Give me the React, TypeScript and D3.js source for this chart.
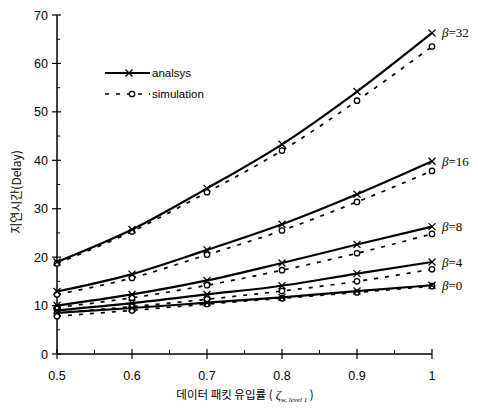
import React from "react";
import * as d3 from "d3";

const xValues = [0.5, 0.6, 0.7, 0.8, 0.9, 1.0];
const betaLabels = ["β=32", "β=16", "β=8", "β=4", "β=0"];
const analysis32 = [19.0, 25.7, 34.2, 43.3, 54.2, 66.3];
const simulation32 = [18.7, 25.3, 33.4, 42.0, 52.3, 63.5];
const analysis16 = [12.9, 16.5, 21.5, 26.8, 33.0, 39.8];
const simulation16 = [12.3, 15.7, 20.5, 25.5, 31.4, 37.8];
const analysis8 = [10.0, 12.3, 15.2, 18.8, 22.6, 26.3];
const simulation8 = [9.6, 11.6, 14.2, 17.3, 20.8, 24.8];
const analysis4 = [9.0, 10.5, 12.3, 14.1, 16.6, 19.0];
const simulation4 = [8.5, 9.8, 11.3, 13.0, 15.0, 17.5];
const analysis0 = [8.5, 9.5, 10.6, 11.7, 13.0, 14.2];
const simulation0 = [7.8, 9.0, 10.3, 11.5, 12.7, 14.0];
const xTicks = [0.5, 0.6, 0.7, 0.8, 0.9, 1];
const yTicks = [0, 10, 20, 30, 40, 50, 60, 70];

const analysisSeries = [analysis32, analysis16, analysis8, analysis4, analysis0];
const simulationSeries = [simulation32, simulation16, simulation8, simulation4, simulation0];

export default function App() {
  const W = 478, H = 409;
  const x = d3.scaleLinear().domain([0.5, 1]).range([57, 432]);
  const y = d3.scaleLinear().domain([0, 70]).range([354, 15]);
  const line = d3
    .line<number>()
    .x((_, i) => x(xValues[i]))
    .y((d) => y(d))
    .curve(d3.curveMonotoneX);

  const minorX = d3.range(0.55, 1, 0.1);
  const minorY = d3.range(5, 70, 10);
  const font = "'Liberation Sans', Arial, sans-serif";

  const cross = (cx: number, cy: number, key: string, s = 3.5) => (
    <g key={key} stroke="#000" strokeWidth={1.3}>
      <line x1={cx - s} y1={cy - s} x2={cx + s} y2={cy + s} />
      <line x1={cx - s} y1={cy + s} x2={cx + s} y2={cy - s} />
    </g>
  );
  const circ = (cx: number, cy: number, key: string) => (
    <circle key={key} cx={cx} cy={cy} r={2.7} fill="#fff" stroke="#000" strokeWidth={1.3} />
  );

  return (
    <svg width={W} height={H} style={{ position: "absolute", left: 0, top: 0, background: "#fff" }}>
      <rect width={W} height={H} fill="#fff" />
      {/* axes */}
      <line x1={x(0.5)} y1={y(0)} x2={x(0.5)} y2={y(70)} stroke="#000" strokeWidth={1.5} />
      <line x1={x(0.5)} y1={y(0)} x2={x(1)} y2={y(0)} stroke="#000" strokeWidth={1.5} />
      {yTicks.map((t) => (
        <g key={"yt" + t}>
          <line x1={x(0.5) - 5} x2={x(0.5) + 4} y1={y(t)} y2={y(t)} stroke="#000" strokeWidth={1.2} />
          <text x={x(0.5) - 9} y={y(t)} dy="0.36em" textAnchor="end" fontFamily={font} fontSize={12.5}>
            {t}
          </text>
        </g>
      ))}
      {minorY.map((t) => (
        <line key={"ym" + t} x1={x(0.5)} x2={x(0.5) + 3} y1={y(t)} y2={y(t)} stroke="#000" strokeWidth={1} />
      ))}
      {xTicks.map((t) => (
        <g key={"xt" + t}>
          <line x1={x(t)} x2={x(t)} y1={y(0) - 5} y2={y(0) + 5} stroke="#000" strokeWidth={1.2} />
          <text x={x(t)} y={y(0) + 26} textAnchor="middle" fontFamily={font} fontSize={12.5}>
            {t}
          </text>
        </g>
      ))}
      {minorX.map((t) => (
        <line key={"xm" + t} x1={x(t)} x2={x(t)} y1={y(0) - 4} y2={y(0)} stroke="#000" strokeWidth={1} />
      ))}
      {/* axis titles */}
      <text
        transform={`translate(21, 192) rotate(-90)`}
        textAnchor="middle"
        fontFamily="'Noto Sans CJK KR', sans-serif"
        fontSize={12}
      >
        지연시간(Delay)
      </text>
      <text x={245} y={399} textAnchor="middle" fontFamily="'Noto Sans CJK KR', sans-serif" fontSize={11.5}>
        데이터 패킷 유입률 (
        <tspan fontFamily="'Liberation Serif', serif" fontStyle="italic" fontSize={13}> ζ</tspan>
        <tspan fontFamily="'Liberation Serif', serif" fontStyle="italic" fontSize={7} dy={3}>w, level 1</tspan>
        <tspan dy={-3}> )</tspan>
      </text>
      {/* series */}
      {simulationSeries.map((s, k) => (
        <g key={"sim" + k}>
          <path d={line(s) || ""} fill="none" stroke="#000" strokeWidth={1.7} strokeDasharray="4 7" />
          {s.map((v, i) => circ(x(xValues[i]), y(v), "sc" + k + i))}
        </g>
      ))}
      {analysisSeries.map((s, k) => (
        <g key={"an" + k}>
          <path d={line(s) || ""} fill="none" stroke="#000" strokeWidth={2.2} />
          {s.map((v, i) => cross(x(xValues[i]), y(v), "ac" + k + i))}
        </g>
      ))}
      {analysisSeries.map((s, k) => (
        <text
          key={"bl" + k}
          x={x(1) + 10}
          y={y(s[s.length - 1])}
          dy="0.35em"
          fontFamily="'Liberation Serif', serif"
          fontSize={13}
        >
          <tspan fontStyle="italic">β</tspan>
          {betaLabels[k].slice(1)}
        </text>
      ))}
      {/* legend */}
      <line x1={105} x2={150} y1={73} y2={73} stroke="#000" strokeWidth={2.2} />
      {cross(129, 73, "lgx")}
      <text x={152} y={73} dy="0.35em" fontFamily={font} fontSize={11.5}>
        analsys
      </text>
      <line x1={105} x2={150} y1={94} y2={94} stroke="#000" strokeWidth={1.7} strokeDasharray="4 7" />
      {circ(132, 94, "lgo")}
      <text x={152} y={94} dy="0.35em" fontFamily={font} fontSize={11.5}>
        simulation
      </text>
    </svg>
  );
}
